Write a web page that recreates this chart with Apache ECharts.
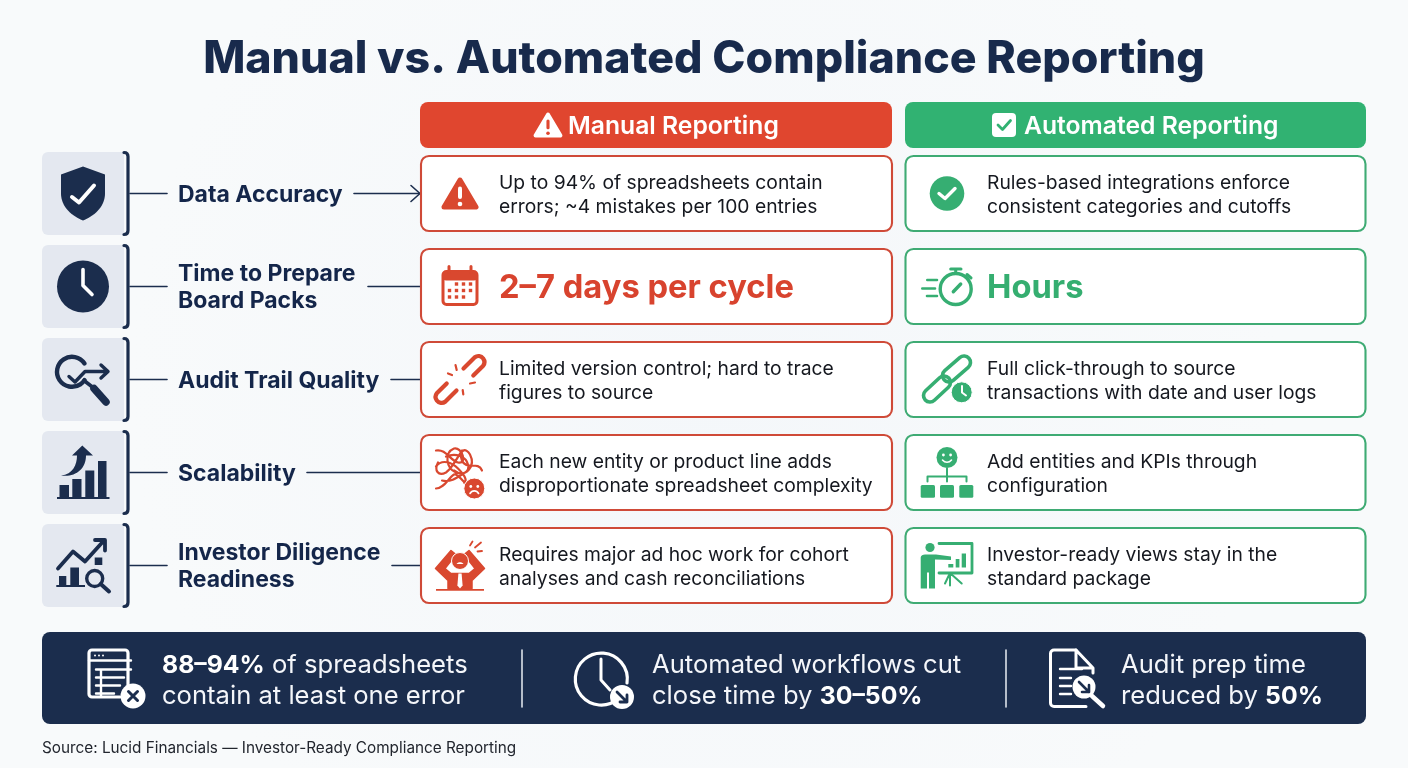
<!DOCTYPE html>
<html>
<head>
<meta charset="utf-8">
<title>Manual vs. Automated Compliance Reporting</title>
<script src="https://cdn.jsdelivr.net/npm/echarts@6/dist/echarts.min.js"></script>
<style>
  html, body { margin: 0; padding: 0; }
  #main { width: 1408px; height: 768px; }
</style>
</head>
<body>
<div id="main"></div>
<script>
// chart content
var chartTitle = 'Manual vs. Automated Compliance Reporting';
var columnTitles = ['Manual Reporting', 'Automated Reporting'];
var categories = ['Data Accuracy', 'Time to Prepare\nBoard Packs', 'Audit Trail Quality', 'Scalability', 'Investor Diligence\nReadiness'];
var manualText = [
    'Up to 94% of spreadsheets contain\nerrors; ~4 mistakes per 100 entries',
    '2–7 days per cycle',
    'Limited version control; hard to trace\nfigures to source',
    'Each new entity or product line adds\ndisproportionate spreadsheet complexity',
    'Requires major ad hoc work for cohort\nanalyses and cash reconciliations'
];
var autoText = [
    'Rules-based integrations enforce\nconsistent categories and cutoffs',
    'Hours',
    'Full click-through to source\ntransactions with date and user logs',
    'Add entities and KPIs through\nconfiguration',
    'Investor-ready views stay in the\nstandard package'
];
var highlightRow = 1;  // the row shown as a big number
var stats = [
    '{b|88–94%} of spreadsheets\ncontain at least one error',
    'Automated workflows cut\nclose time by {b|30–50%}',
    'Audit prep time\nreduced by {b|50%}'
];
var sourceNote = 'Source: Lucid Financials — Investor-Ready Compliance Reporting';

// colours and layout
var NAVY = '#1B2D4D', INK = '#14264A', RED = '#D9482F', GREEN = '#36AE72', WHITE = '#FFFFFF';
var FONT = 'Inter';
var leaderStart = [354, 368, 391, 307, 392];

function P(d, style) {
    return { type: 'path', shape: { pathData: d }, style: Object.assign({ fill: 'none' }, style) };
}
function line(d, color, w) {
    return P(d, { stroke: color, lineWidth: w, lineCap: 'round', lineJoin: 'round' });
}
function solid(d, color) {
    return P(d, { fill: color });
}
function circle(x, y, r, style) {
    return { type: 'circle', shape: { cx: x, cy: y, r: r }, style: style };
}
function box(x, y, w, h, r, style) {
    return { type: 'rect', shape: { x: x, y: y, width: w, height: h, r: r }, style: style };
}
function capsule(x1, y1, x2, y2, r) {
    var dx = x2 - x1, dy = y2 - y1, len = Math.sqrt(dx * dx + dy * dy);
    var nx = -dy / len * r, ny = dx / len * r;
    return 'M' + (x1 + nx) + ' ' + (y1 + ny) + 'L' + (x2 + nx) + ' ' + (y2 + ny) +
        'A' + r + ' ' + r + ' 0 0 0 ' + (x2 - nx) + ' ' + (y2 - ny) +
        'L' + (x1 - nx) + ' ' + (y1 - ny) +
        'A' + r + ' ' + r + ' 0 0 0 ' + (x1 + nx) + ' ' + (y1 + ny) + 'Z';
}

// left tile icons, drawn round (0,0)
var tileIcons = [
    [
        solid('M0 -27L22 -19V0C22 14 10 23 0 27C-10 23 -22 14 -22 0V-19Z', NAVY),
        line('M-11 3.5L-4 9L11 -8', WHITE, 4)
    ],
    [
        circle(0, 0, 26, { fill: NAVY }),
        line('M0 -17V-1L9 8', WHITE, 3.6)
    ],
    [
        P('M1.5 -16A15 15 0 1 0 1.5 0.6', { stroke: NAVY, lineWidth: 4.4, lineCap: 'round' }),
        line('M-14 -3L-8 2.5L2 -8H25M18 -14.5L25 -8L18 -1.5', NAVY, 3.4),
        line('M1 1L10 8', NAVY, 3.6),
        line('M11 9L23 22.5', NAVY, 7.5)
    ],
    [
        solid('M-26 24.5H26.5V26.5H-26Z', NAVY),
        box(-23.5, 12.5, 9.5, 13, 0, { fill: NAVY }),
        box(-10.7, 6.5, 9.2, 19, 0, { fill: NAVY }),
        box(2.3, -2, 9, 27, 0, { fill: NAVY }),
        box(15, -11.5, 8.5, 37, 0, { fill: NAVY }),
        solid('M-22 3C-10 2 -6 -8 -6 -17H-11L-0.7 -27L10 -17H3C3 -3 -8 5 -22 3Z', NAVY)
    ],
    [
        line('M-25 3L-10 -14L2 -4L21 -25M12 -25.5H22V-15', NAVY, 3.8),
        solid('M-26.7 19.5H2V21.5H-26.7Z', NAVY),
        box(-24, 10.5, 7.3, 10, 0, { fill: NAVY }),
        box(-12.7, 2, 8.7, 18.5, 0, { fill: NAVY }),
        box(11.7, -8, 7.6, 7.5, 0, { fill: NAVY }),
        circle(11.7, 13, 8, { fill: 'none', stroke: NAVY, lineWidth: 3.4 }),
        line('M17.7 18.5L26 26', NAVY, 4)
    ]
];

function warnIcon(body, mark, s) {
    return [
        P('M0 ' + (-13.5 * s) + 'L' + (16 * s) + ' ' + (13.5 * s) + 'H' + (-16 * s) + 'Z',
            { fill: body, stroke: body, lineWidth: 5 * s, lineJoin: 'round' }),
        box(-2 * s, -7 * s, 4 * s, 12.5 * s, 2 * s, { fill: mark }),
        circle(0, 10.5 * s, 2.3 * s, { fill: mark })
    ];
}

var calendarDots = [[-3.5, -2.5], [3.5, -2.5], [10.5, -2.5], [-10.5, 4], [-3.5, 4], [3.5, 4], [10.5, 4], [-10.5, 10.5], [-3.5, 10.5], [3.5, 10.5]];

var manualIcons = [
    warnIcon(RED, WHITE, 1),
    [
        box(-17, -15, 34, 33, 3.5, { fill: 'none', stroke: RED, lineWidth: 3 }),
        box(-17, -15, 34, 9, 3, { fill: RED }),
        line('M-11 -20V-14M11 -20V-14', RED, 3)
    ].concat(calendarDots.map(function (d) {
        return box(d[0] - 1.7, d[1] - 1.7, 3.4, 3.4, 0, { fill: RED });
    })),
    [
        line('M3.5 -10.9L14.8 -22.2A6 6 0 0 1 23.2 -13.8L13.3 -3.9', RED, 4.2),
        line('M-3.5 10.9L-14.8 22.2A6 6 0 0 1 -23.2 13.8L-13.3 3.9', RED, 4.2),
        line('M-12 -6L-8 -4.5M-4.5 -14.5L-3.3 -9.5M10 4L15 3M2.7 10.5L3.3 14.8', RED, 2.2)
    ],
    [
        line('M-24 -22C-14 -24 -10 -12 -2 -10C8 -8 2 -26 -6 -24C-16 -20 -14 -4 -4 0C6 4 16 -6 10 -18C6 -26 -2 -22 2 -12C6 -2 18 -12 22 -2' +
            'M-24 -6C-18 -14 -8 -10 -2 -4C4 2 8 8 4 10M-22 -10C-26 -2 -22 4 -14 0C-8 -4 -2 -16 2 -22M-24 16C-16 16 -12 6 -6 2C-2 0 2 10 8 12' +
            'M-14 -16C-4 -20 6 -16 8 -8C10 0 2 4 -6 -2M-18 8C-10 10 -4 6 2 2', RED, 2.2),
        circle(14.3, 16, 10.5, { fill: RED, stroke: WHITE, lineWidth: 1 }),
        circle(10.8, 14, 1.4, { fill: WHITE }),
        circle(17.8, 14, 1.4, { fill: WHITE }),
        line('M10 21C12 17.5 16.6 17.5 18.6 21', WHITE, 1.6)
    ],
    [
        P('M-24.5 3L-9 -15L-4 -11L-15 3L-9 8H9L15 3L4 -11L9 -15L24.5 3L12 15V23H-12V15Z', { fill: RED, stroke: RED, lineWidth: 1.5, lineJoin: 'round' }),
        circle(0, -4.5, 8.5, { fill: RED, stroke: WHITE, lineWidth: 1 }),
        solid('M-3.5 -1.5C-2 -4 2 -4 3.5 -1.5Z', WHITE),
        solid('M-1.6 8H1.6L2.6 20L0 23L-2.6 20Z', WHITE),
        solid('M-24 23.6H24V25.2H-24Z', RED),
        line('M10 -20L12.5 -24M15 -18L21 -23M17.5 -14L22 -14.5', RED, 1.8)
    ]
];

var autoIcons = [
    [
        circle(0, 0, 17.3, { fill: GREEN }),
        line('M-8 0L-2 5L8 -5', WHITE, 3.4)
    ],
    [
        circle(8.7, 2.5, 15.5, { fill: 'none', stroke: GREEN, lineWidth: 3.4 }),
        line('M3.7 -17.5H14M8.7 -17.5V-13M20 -12L24 -8.5', GREEN, 3),
        line('M6.3 5.2L13.7 -2.5', GREEN, 3.4),
        line('M-19.7 -6.5H-10M-24.7 2H-12M-20 9.5H-10', GREEN, 2.6)
    ],
    [
        line(capsule(2, -4, 17, -17, 6.5), GREEN, 3.6),
        line(capsule(-17, 16, -3, 3, 6.5), GREEN, 3.6),
        circle(14.7, 12.8, 10.5, { fill: GREEN, stroke: WHITE, lineWidth: 1 }),
        line('M15 6.5V13L19 16', WHITE, 2)
    ],
    [
        circle(0, -15, 10.5, { fill: GREEN }),
        circle(-3.6, -17.5, 1.4, { fill: WHITE }),
        circle(3.6, -17.5, 1.4, { fill: WHITE }),
        line('M-4.5 -12.5C-2 -9.5 2 -9.5 4.5 -12.5', WHITE, 1.6),
        line('M0 -4V9M-19.5 9V4H19.5V9', GREEN, 2),
        box(-26.3, 12.5, 14.3, 12.7, 1.5, { fill: GREEN }),
        box(-7, 12.5, 14, 12.7, 1.5, { fill: GREEN }),
        box(12.3, 12.5, 14, 12.7, 1.5, { fill: GREEN })
    ],
    [
        circle(-17, -18, 4.6, { fill: GREEN }),
        solid('M-26.3 -8C-26.3 -10 -24 -11 -22 -11L-11 -11L4 -9V-5.5L-12 -6V23H-18V7H-20V23H-26.3Z', GREEN),
        line('M-8 -22H25V7.5H-8', GREEN, 2.8),
        box(1.3, -1.5, 5, 3.5, 0, { fill: GREEN }),
        box(8.7, -6.5, 3.7, 8.5, 0, { fill: GREEN }),
        box(14.7, -12, 4.3, 14, 0, { fill: GREEN }),
        line('M3 7.5L-2 18M3 7.5L14.7 18M3 7.5V20', GREEN, 2)
    ]
];

// builds one column of cards from a text array
function cardSeries(name, texts, icons, color, left, width, iconX, textX, bigColor) {
    return {
        name: name,
        type: 'custom',
        clip: false,
        silent: true,
        coordinateSystem: 'cartesian2d',
        encode: { x: 0, y: 1 },
        data: texts.map(function (t, i) { return [left, i]; }),
        renderItem: function (params, api) {
            var i = params.dataIndex;
            var p = api.coord([api.value(0), api.value(1)]);
            var cy = p[1];
            var big = i === highlightRow;
            return {
                type: 'group',
                children: [
                    box(p[0], cy - 37.5, width, 75, 8, { fill: WHITE, stroke: color, lineWidth: 2.1 }),
                    { type: 'group', x: iconX, y: cy, children: icons[i] },
                    {
                        type: 'text',
                        style: {
                            x: textX,
                            y: cy + (big ? 2 : 1.5),
                            text: texts[i],
                            fill: big ? bigColor : '#15181F',
                            font: (big ? '700 ' + 32.7 : '400 ' + 19.3) + 'px ' + FONT,
                            lineHeight: 24,
                            align: 'left',
                            verticalAlign: 'middle'
                        }
                    }
                ]
            };
        }
    };
}

// tile, bracket and leader line at the left of each row
var tileSeries = {
    name: 'tiles',
    type: 'custom',
    clip: false,
    silent: true,
    coordinateSystem: 'cartesian2d',
    encode: { x: 0, y: 1 },
    data: categories.map(function (c, i) { return [83, i]; }),
    renderItem: function (params, api) {
        var i = params.dataIndex;
        var p = api.coord([api.value(0), api.value(1)]);
        var cy = p[1];
        var kids = [
            box(42, cy - 41.5, 82, 83, [6, 0, 0, 6], { fill: '#E4E8F0' }),
            line('M124 ' + (cy - 41) + 'Q128 ' + (cy - 41) + ' 128 ' + (cy - 37) + 'V' + (cy + 37) + 'Q128 ' + (cy + 41) + ' 124 ' + (cy + 41), NAVY, 3.2),
            line('M130 ' + cy + 'H167', NAVY, 1.6),
            line('M' + leaderStart[i] + ' ' + cy + 'H420', NAVY, 1.6),
            { type: 'group', x: p[0], y: cy, children: tileIcons[i] }
        ];
        if (i === 0) {
            kids.push(line('M411 ' + (cy - 8) + 'L420 ' + cy + 'L411 ' + (cy + 8), NAVY, 1.6));
        }
        return { type: 'group', children: kids };
    }
};

function headerBar(x, w, color, title, textX) {
    return [
        box(x, 102, w, 46, 8, { fill: color }),
        {
            type: 'text',
            style: {
                x: textX, y: 127, text: title, fill: WHITE,
                font: '600 24.7px ' + FONT, align: 'left', verticalAlign: 'middle'
            }
        }
    ];
}

function statText(x, text) {
    return {
        type: 'text',
        style: {
            x: x, y: 681, text: text, fill: '#F4F6FA',
            font: '400 25.6px ' + FONT, lineHeight: 31,
            align: 'left', verticalAlign: 'middle',
            rich: { b: { font: '700 24.8px ' + FONT, fill: WHITE, lineHeight: 31 } }
        }
    };
}

var bannerParts = [
    box(42, 632, 1324, 92, 8, { fill: NAVY }),
    // spreadsheet with error mark
    line('M128 691V653A3 3 0 0 0 125 650H92A3 3 0 0 0 89 653V694A3 3 0 0 0 92 697H120', WHITE, 3.2),
    line('M89 660.5H131M96 669.5H131M96 677.5H124M96 685.5H120M96 693.5H114M101 669.5V696', WHITE, 2.4),
    circle(95, 655.5, 1, { fill: WHITE }),
    circle(99, 655.5, 1, { fill: WHITE }),
    circle(103, 655.5, 1, { fill: WHITE }),
    circle(133, 696, 12.5, { fill: WHITE }),
    line('M128.5 691.5L137.5 700.5M137.5 691.5L128.5 700.5', NAVY, 3),
    // clock with down arrow
    P('M618 699A26 26 0 1 1 627 683', { stroke: WHITE, lineWidth: 3.2, lineCap: 'round' }),
    line('M601 659V680L610 690', WHITE, 3),
    circle(622, 697, 12, { fill: WHITE }),
    line('M617 692L627 702M627 695V702H620', NAVY, 2.8),
    // document with magnifier
    line('M1076 650H1054A3.5 3.5 0 0 0 1050.5 653.5V703A3.5 3.5 0 0 0 1054 706.5H1086', WHITE, 3),
    line('M1076 650L1093 668V673M1076 650V668H1093', WHITE, 3),
    line('M1060 669H1082M1060 678H1071M1060 686H1071M1060 694H1071', WHITE, 2.4),
    circle(1084, 687, 11.5, { fill: WHITE }),
    line('M1092 696L1103 706', WHITE, 4.5),
    line('M1079 682L1089 692M1089 685V692H1082', NAVY, 2.6),
    // dividers
    line('M522 650V707', '#DDE2EA', 1.6),
    line('M1006 650V707', '#DDE2EA', 1.6),
    statText(162, stats[0]),
    statText(652, stats[1]),
    statText(1121, stats[2])
];

var headerParts = headerBar(420, 472, '#E0462F', columnTitles[0], 568)
    .concat(headerBar(905, 461, '#31B272', columnTitles[1], 1024))
    .concat([{ type: 'group', x: 548, y: 125, children: warnIcon(WHITE, '#E0462F', 0.78) }])
    .concat([
        box(992, 113, 24, 24, 4, { fill: WHITE }),
        line('M998 125L1002.5 129.5L1010.5 120.5', '#31B272', 2.8)
    ]);

// header bars and the bottom banner sit outside the rows
var frameSeries = {
    name: 'frame',
    type: 'custom',
    clip: false,
    silent: true,
    coordinateSystem: 'cartesian2d',
    encode: { x: 0, y: 1 },
    data: [[0, 0]],
    renderItem: function () {
        return { type: 'group', children: headerParts.concat(bannerParts) };
    }
};

var myChart = echarts.init(document.getElementById('main'));
var option = {
    animation: false,
    backgroundColor: {
        type: 'radial', x: 0.5, y: 0.5, r: 0.75,
        colorStops: [{ offset: 0, color: '#F4F7FA' }, { offset: 1, color: '#F8FAFB' }]
    },
    title: [
        {
            text: chartTitle, left: 'center', top: 32,
            textStyle: { fontFamily: FONT, fontWeight: 800, fontSize: 44.7, color: '#182A4C' }
        },
        {
            text: sourceNote, left: 37, top: 736,
            textStyle: { fontFamily: FONT, fontWeight: 400, fontSize: 15.3, color: '#22262E' }
        }
    ],
    // second grid only carries the row labels, a little lower than the cards
    grid: [
        { left: 0, right: 0, top: 147, height: 465 },
        { left: 0, right: 0, top: 148.5, height: 465 }
    ],
    xAxis: [
        { gridIndex: 0, type: 'value', min: 0, max: 1408, show: false },
        { gridIndex: 1, type: 'value', min: 0, max: 1408, show: false }
    ],
    yAxis: [
        { gridIndex: 0, type: 'category', inverse: true, data: categories, show: false },
        {
            gridIndex: 1,
            type: 'category',
            inverse: true,
            data: categories,
            axisLine: { show: false },
            axisTick: { show: false },
            splitLine: { show: false },
            axisLabel: {
                inside: true, margin: 178, interval: 0, align: 'left',
                fontFamily: FONT, fontWeight: 700, fontSize: 23, lineHeight: 27, color: INK
            }
        }
    ],
    series: [
        frameSeries,
        tileSeries,
        cardSeries(columnTitles[0], manualText, manualIcons, '#CF4A38', 421, 471, 460, 499, '#D8432E'),
        cardSeries(columnTitles[1], autoText, autoIcons, '#3FAB74', 905.5, 460, 947, 987, '#35AE70')
    ]
};
myChart.setOption(option);
</script>
</body>
</html>
